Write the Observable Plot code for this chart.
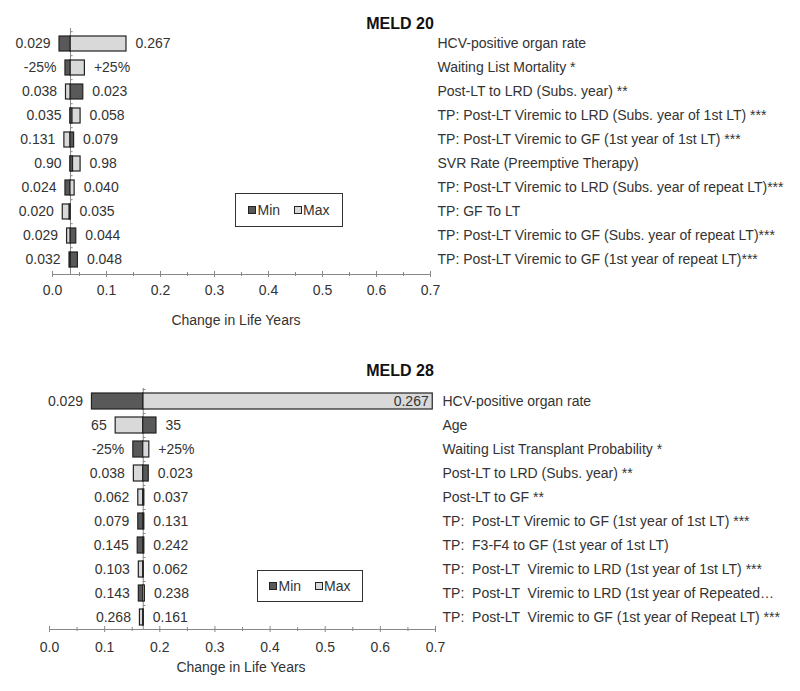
<!DOCTYPE html>
<html><head><meta charset="utf-8">
<script src="https://cdn.jsdelivr.net/npm/d3@7"></script>
<script src="https://cdn.jsdelivr.net/npm/@observablehq/plot@0.6"></script>
<style>
body{margin:0;background:#fff;font-family:"Liberation Sans",Arial,sans-serif;}
#wrap{position:relative;width:800px;height:691px;overflow:hidden;}
.panel{position:absolute;left:0;width:800px;z-index:1;}
svg text{white-space:pre;}
.title{position:absolute;left:0;width:800px;text-align:center;font-weight:bold;font-size:16px;line-height:18px;color:#111;z-index:2;}
.xlabel{position:absolute;font-size:14px;line-height:16px;color:#333;transform:translateX(-50%);white-space:nowrap;z-index:2;}
.legend{position:absolute;border:1.5px solid #333;box-sizing:border-box;display:flex;align-items:center;justify-content:center;font-size:14px;color:#333;background:#fff;z-index:2;}
.sw{display:inline-block;width:6px;height:6px;border:1px solid #222;margin-right:1px;}
.item{display:flex;align-items:center;}
</style>
</head><body>
<div id="wrap">
  <div id="p20" class="panel" style="top:0"></div>
  <div id="p28" class="panel" style="top:345px"></div>
  <div class="title" style="top:15px">MELD 20</div>
  <div class="xlabel" style="left:236px;top:312px">Change in Life Years</div>
  <div class="legend" style="left:235px;top:193px;width:108px;height:34px">
    <span class="item"><span class="sw" style="background:#595959"></span>Min</span>
    <span class="item" style="margin-left:14px"><span class="sw" style="background:#d9d9d9"></span>Max</span>
  </div>
  <div class="title" style="top:362px">MELD 28</div>
  <div class="xlabel" style="left:241px;top:659px">Change in Life Years</div>
  <div class="legend" style="left:257px;top:570px;width:106px;height:32px">
    <span class="item"><span class="sw" style="background:#595959"></span>Min</span>
    <span class="item" style="margin-left:14px"><span class="sw" style="background:#d9d9d9"></span>Max</span>
  </div>
</div>
<script>
// ---------- MELD 20 ----------
const params20 = [
  "HCV-positive organ rate",
  "Waiting List Mortality *",
  "Post-LT to LRD (Subs. year) **",
  "TP: Post-LT Viremic to LRD (Subs. year of 1st LT) ***",
  "TP: Post-LT Viremic to GF (1st year of 1st LT) ***",
  "SVR Rate (Preemptive Therapy)",
  "TP: Post-LT Viremic to LRD (Subs. year of repeat LT)***",
  "TP: GF To LT",
  "TP: Post-LT Viremic to GF (Subs. year of repeat LT)***",
  "TP: Post-LT Viremic to GF (1st year of repeat LT)***"
];
const base20 = 0.0333;
const min20 = [0.013, 0.024, 0.057, 0.037, 0.040, 0.038, 0.024, 0.0315, 0.044, 0.047];
const max20 = [0.137, 0.060, 0.025, 0.052, 0.022, 0.052, 0.041, 0.019, 0.027, 0.0315];
const leftLab20  = ["0.029","-25%","0.038","0.035","0.131","0.90","0.024","0.020","0.029","0.032"];
const rightLab20 = ["0.267","+25%","0.023","0.058","0.079","0.98","0.040","0.035","0.044","0.048"];

// ---------- MELD 28 ----------
const params28 = [
  "HCV-positive organ rate",
  "Age",
  "Waiting List Transplant Probability *",
  "Post-LT to LRD (Subs. year) **",
  "Post-LT to GF **",
  "TP:  Post-LT Viremic to GF (1st year of 1st LT) ***",
  "TP:  F3-F4 to GF (1st year of 1st LT)",
  "TP:  Post-LT  Viremic to LRD (1st year of 1st LT) ***",
  "TP:  Post-LT  Viremic to LRD (1st year of Repeated\u2026",
  "TP:  Post-LT  Viremic to GF (1st year of Repeat LT) ***"
];
const base28 = 0.170;
const min28 = [0.077, 0.194, 0.152, 0.180, 0.172, 0.161, 0.160, 0.171, 0.162, 0.171];
const max28 = [0.695, 0.120, 0.181, 0.153, 0.161, 0.172, 0.172, 0.162, 0.173, 0.164];
const leftLab28  = ["0.029","65","-25%","0.038","0.062","0.079","0.145","0.103","0.143","0.268"];
const rightLab28 = ["0.267","35","+25%","0.023","0.037","0.131","0.242","0.062","0.238","0.161"];

const majorTicks = [0, 0.1, 0.2, 0.3, 0.4, 0.5, 0.6, 0.7];
const minorTicks = [0.05, 0.15, 0.25, 0.35, 0.45, 0.55, 0.65];
const seriesNames = ["Min", "Max"];
const seriesColors = ["#595959", "#d9d9d9"];

function panel(cfg) {
  const {params, minV, maxV, leftLab, rightLab, base, height, marginTop, marginBottom, marginLeft, marginRight, pad, tickPad, barStroke} = cfg;
  const rows = params.map((p, i) => ({param: p, min: minV[i], max: maxV[i], left: leftLab[i], right: rightLab[i]}));
  const segs = rows.flatMap(r => [
    {param: r.param, type: "Min", v: r.min},
    {param: r.param, type: "Max", v: r.max}
  ]).sort((a, b) => Math.abs(b.v - base) - Math.abs(a.v - base));
  const step = (height - marginTop - marginBottom) / params.length;
  const hi = r => Math.max(r.min, r.max, base);
  const lo = r => Math.min(r.min, r.max, base);
  return Plot.plot({
    width: 800, height, marginTop, marginBottom, marginLeft, marginRight,
    style: {fontFamily: "'Liberation Sans', Arial, sans-serif", fontSize: "14px", color: "#333", background: "transparent", overflow: "visible"},
    x: {domain: [0, 0.7], label: null},
    y: {domain: params, paddingInner: pad, paddingOuter: pad / 2, label: null},
    color: {domain: seriesNames, range: seriesColors},
    marks: [
      Plot.frame({anchor: "bottom", stroke: "#888"}),
      Plot.axisX({ticks: majorTicks, tickFormat: d3.format(".1f"), tickSize: 0, tickPadding: tickPad, fill: "#333"}),
      Plot.axisX({ticks: majorTicks, tickSize: 6, dy: -3, text: null, stroke: "#888"}),
      Plot.axisX({ticks: minorTicks, tickSize: 4, dy: -2, text: null, stroke: "#888"}),
      Plot.axisY({anchor: "right", tickSize: 0, tickPadding: 7, fill: "#333"}),
      Plot.ruleX([base], {stroke: "#888"}),
      Plot.ruleY(params, {y: d => d, x1: () => base, x2: () => base + 0.005, dy: -step / 2, stroke: "#888"}),
      Plot.barX(segs, {y: "param", x1: () => base, x2: "v", fill: "type", stroke: barStroke, strokeWidth: 1.2}),
      Plot.text(rows, {y: "param", x: lo, text: "left", textAnchor: "end", dx: -9, fill: "#333"}),
      Plot.text(rows, {filter: r => hi(r) <= 0.6, y: "param", x: hi, text: "right", textAnchor: "start", dx: 9, fill: "#333"}),
      Plot.text(rows, {filter: r => hi(r) > 0.6, y: "param", x: hi, text: "right", textAnchor: "end", dx: -4, fill: "#333"})
    ]
  });
}

document.getElementById("p20").append(panel({
  params: params20, minV: min20, maxV: max20, leftLab: leftLab20, rightLab: rightLab20, base: base20,
  height: 345, marginTop: 28, marginBottom: 71, marginLeft: 52, marginRight: 370, pad: 0.39, tickPad: 11, barStroke: "#222"
}));
document.getElementById("p28").append(panel({
  params: params28, minV: min28, maxV: max28, leftLab: leftLab28, rightLab: rightLab28, base: base28,
  height: 346, marginTop: 43, marginBottom: 62, marginLeft: 49, marginRight: 365, pad: 0.34, tickPad: 13, barStroke: "#222"
}));
</script>
</body></html>
